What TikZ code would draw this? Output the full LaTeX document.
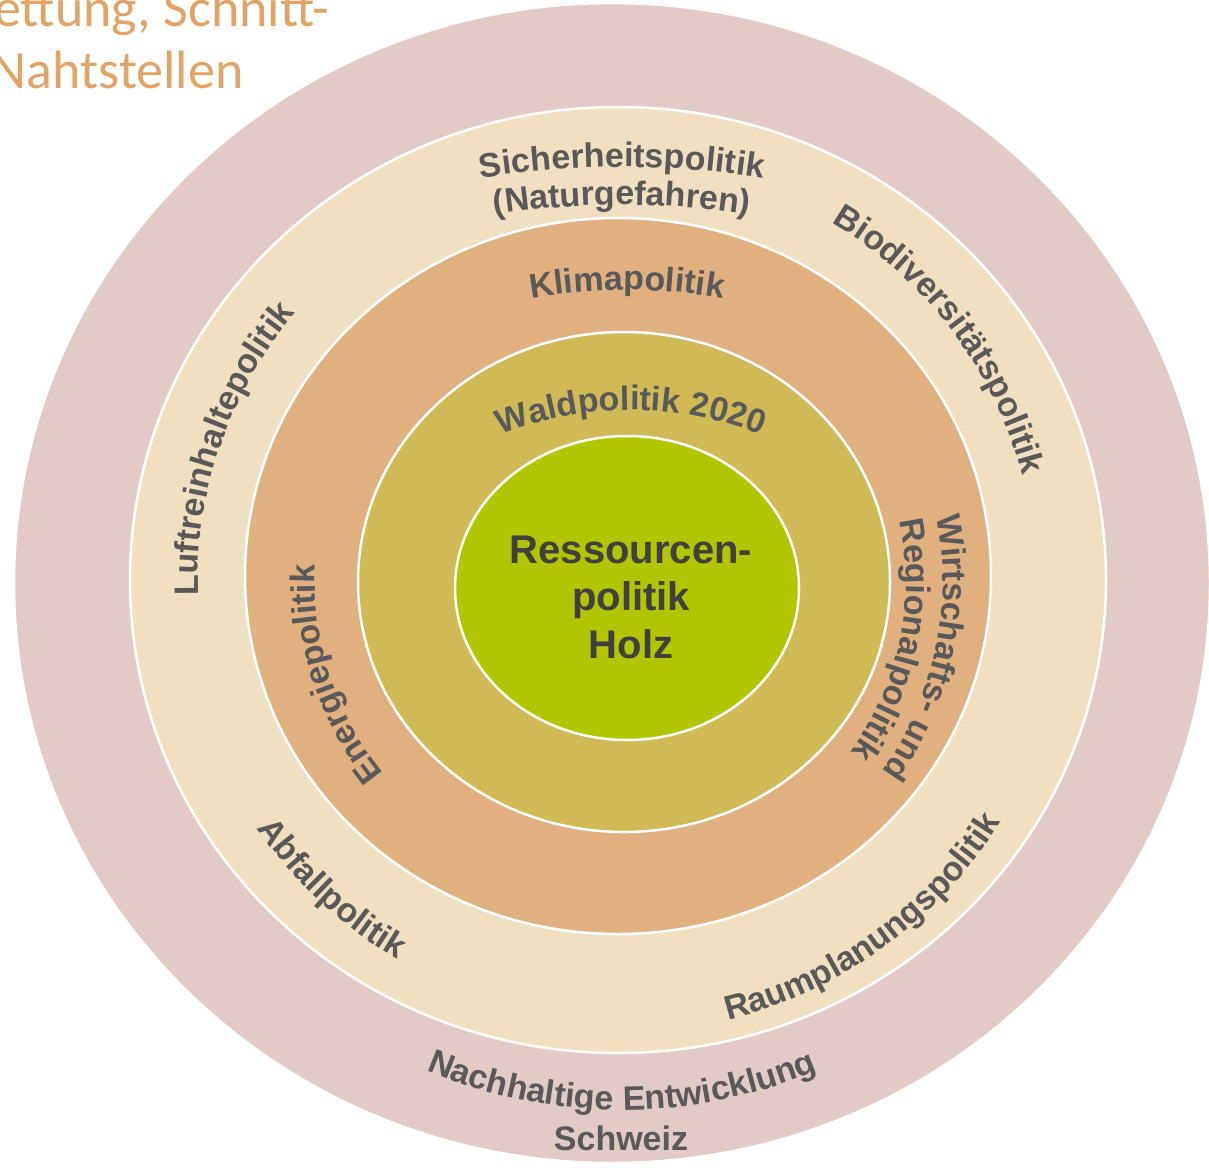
\documentclass[tikz,border=0pt]{standalone}
\usepackage{fontspec}
\setmainfont{Liberation Sans}
\newfontfamily\titlefont{Carlito}
\usetikzlibrary{decorations.text}

\definecolor{ringout}{HTML}{E2CBC6}
\definecolor{ringsec}{HTML}{F1DFC1}
\definecolor{ringclim}{HTML}{E1B07F}
\definecolor{ringwald}{HTML}{D0BA55}
\definecolor{ringcore}{HTML}{B2C600}
\definecolor{labelgray}{HTML}{595959}
\definecolor{coregray}{HTML}{404040}
\definecolor{titleorange}{HTML}{E2A466}

\newcommand{\lblfont}{\fontsize{34}{40}\selectfont\bfseries}

\tikzset{
  ring/.style={draw=white, line width=2.5pt},
  curvelabel/.style={decorate, decoration={text along path, text align=center,
      text color=labelgray, text={|\lblfont|#1}}},
}

\begin{document}
\begin{tikzpicture}[x=1pt,y=1pt]
\useasboundingbox (0,0) rectangle (1209,-1167);
% rings, outside in
\draw[ring, fill=ringout] (612,-583) ellipse [x radius=598pt, y radius=580pt];
\draw[ring, fill=ringsec] (618,-580) ellipse [x radius=488pt, y radius=473pt];
\draw[ring, fill=ringclim] (618,-576) ellipse [x radius=373pt, y radius=358pt];
\draw[ring, fill=ringwald] (624,-582) ellipse [x radius=266pt, y radius=250pt];
\draw[ring, fill=ringcore] (627,-588) ellipse [x radius=172pt, y radius=152pt];

% centres of the label arcs
\coordinate (mid) at (618,-582);
\coordinate (sichctr) at (622,-1070);
\coordinate (klimctr) at (627,-850);
\coordinate (waldctr) at (631,-760);
\coordinate (nachctr) at (622,-608);

% top labels
\path[curvelabel={Sicherheitspolitik}] (sichctr) ++(105:903pt)
       arc[start angle=105, end angle=75, radius=903pt];
\path[curvelabel={(Naturgefahren)}] (sichctr) ++(105:865pt)
       arc[start angle=105, end angle=75, radius=865pt];
\path[curvelabel={Klimapolitik}] (klimctr) ++(110:560pt)
       arc[start angle=110, end angle=70, radius=560pt];
\path[curvelabel={Waldpolitik 2020}] (waldctr) ++(135:350pt)
       arc[start angle=135, end angle=45, radius=350pt];

% labels round the sides
\path[curvelabel={Biodiversitätspolitik}] (mid) ++(70:418pt)
       arc[start angle=70, end angle=4, radius=418pt];
\path[curvelabel={Luftreinhaltepolitik}] (mid) ++(195:420pt)
       arc[start angle=195, end angle=127, radius=420pt];
\path[curvelabel={Energiepolitik}] (mid) ++(238:303pt)
       arc[start angle=238, end angle=158, radius=303pt];
\path[curvelabel={Wirtschafts- und}] (mid) ++(30:325pt)
       arc[start angle=30, end angle=-54, radius=325pt];
\path[curvelabel={Regionalpolitik}] (mid) ++(30:288pt)
       arc[start angle=30, end angle=-54, radius=288pt];

% bottom labels
\path[curvelabel={Abfallpolitik}] (mid) ++(197:437pt)
       arc[start angle=197, end angle=257, radius=437pt];
\path[curvelabel={Raumplanungspolitik}] (mid) ++(266:452pt)
       arc[start angle=266, end angle=346, radius=452pt];
\path[curvelabel={Nachhaltige Entwicklung}] (nachctr) ++(230:502pt)
       arc[start angle=230, end angle=310, radius=502pt];
\node[anchor=base, text=labelgray, font=\lblfont] (schweiz) at (621,-1150) {Schweiz};

% core
\node[align=center, text=coregray, font=\fontsize{40}{47.5}\selectfont\bfseries]
     (core) at (631,-597) {Ressourcen-\\politik\\Holz};

% heading, cut at the edge
\node[anchor=base east, text=titleorange, font=\titlefont\fontsize{54}{60}\selectfont]
     (head1) at (333,-27) {ettung, Schnitt-};
\node[anchor=base east, text=titleorange, font=\titlefont\fontsize{54}{60}\selectfont]
     (head2) at (247,-88) {Nahtstellen};
\end{tikzpicture}
\end{document}
